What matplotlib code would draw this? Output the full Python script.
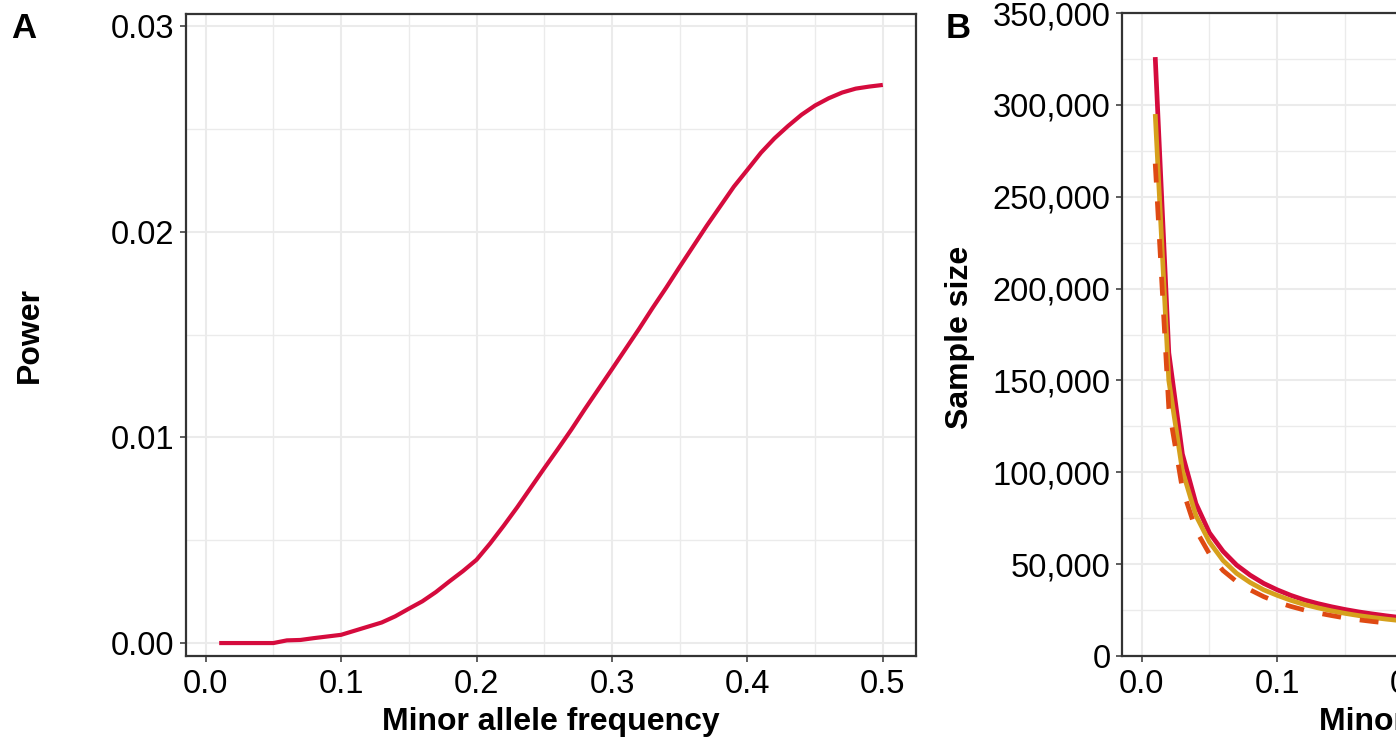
import numpy as np
import matplotlib
matplotlib.use("Agg")
import matplotlib.pyplot as plt
from matplotlib.ticker import MultipleLocator, FuncFormatter

plt.rcParams['font.family'] = ['Liberation Sans', 'DejaVu Sans']

# ---- Panel A data ----
maf_a = np.round(np.arange(1, 51) / 100, 2)
power = [0.0, 0.0, 0.0, 0.0, 0.0, 0.00013, 0.00015, 0.00024, 0.00032, 0.00040,
         0.00060, 0.00080, 0.00100, 0.00130, 0.00167, 0.00203, 0.00248, 0.00300, 0.00350, 0.00405,
         0.00484, 0.00570, 0.00660, 0.00755, 0.00850, 0.00943, 0.01038, 0.01138, 0.01235, 0.01332,
         0.01430, 0.01528, 0.01630, 0.01728, 0.01830, 0.01930, 0.02030, 0.02125, 0.02220, 0.02302,
         0.02385, 0.02455, 0.02515, 0.02570, 0.02615, 0.02650, 0.02678, 0.02697, 0.02707, 0.02715]

# ---- Panel B data ----
maf_b = np.round(np.arange(1, 22) / 100, 2)
n_crimson = [326000, 165000, 110000, 83000, 67000, 57000, 49500, 44000, 39500, 36000,
             33000, 30500, 28500, 26800, 25300, 24000, 22900, 21900, 21000, 20200, 19500]
n_gold = [295000, 150000, 101000, 76500, 62000, 52000, 45000, 40000, 36000, 33000,
          30300, 28000, 26200, 24600, 23200, 22000, 21000, 20100, 19300, 18600, 18000]
n_dashed = [268000, 135000, 91000, 68500, 55500, 46500, 40500, 36000, 32300, 29300,
            27000, 25000, 23400, 22000, 20700, 19700, 18800, 18000, 17300, 16700, 16200]

x_ticks = [0.0, 0.1, 0.2, 0.3, 0.4, 0.5]
x_tick_labels = ["0.0", "0.1", "0.2", "0.3", "0.4", "0.5"]
a_y_ticks = [0.00, 0.01, 0.02, 0.03]
a_y_tick_labels = ["0.00", "0.01", "0.02", "0.03"]
b_y_ticks = [0, 50000, 100000, 150000, 200000, 250000, 300000, 350000]

C_CRIMSON = '#D50B3D'
C_GOLD = '#D6A01C'
C_DASH = '#DF4A13'
GRID = '#EBEBEB'
SPINE = '#333333'

TICK_FS = 23.5
TITLE_FS = 23

W, H = 1396, 740
fig = plt.figure(figsize=(W / 100, H / 100), dpi=100)
fig.patch.set_facecolor('white')


def rect(l, r, t, b):
    return [l / W, (H - b) / H, (r - l) / W, (b - t) / H]


def style(ax):
    ax.set_facecolor('white')
    ax.xaxis.set_minor_locator(MultipleLocator(0.05))
    ax.grid(which='major', color=GRID, lw=1.5, zorder=0)
    ax.grid(which='minor', color=GRID, lw=1.0, zorder=0)
    ax.set_axisbelow(True)
    for s in ax.spines.values():
        s.set_color(SPINE)
        s.set_linewidth(1.6)
    ax.tick_params(which='major', direction='out', length=4.3, width=1.1, color=SPINE,
                   labelsize=TICK_FS, labelcolor='black')
    ax.tick_params(axis='x', which='major', pad=5)
    ax.tick_params(axis='y', which='major', pad=4)
    ax.tick_params(which='minor', length=0)


# ---- Panel A ----
axA = fig.add_axes(rect(186, 916, 14, 656))
style(axA)
axA.plot(maf_a, power, color=C_CRIMSON, lw=3.0, solid_capstyle='butt', zorder=3)
axA.set_xlim(-0.0145, 0.5245)
axA.set_ylim(-0.00063, 0.0306)
axA.set_xticks(x_ticks)
axA.set_xticklabels(x_tick_labels)
axA.set_yticks(a_y_ticks)
axA.set_yticklabels(a_y_tick_labels)
axA.yaxis.set_minor_locator(MultipleLocator(0.005))
axA.set_xlabel("Minor allele frequency", fontsize=TITLE_FS, fontweight='bold')
axA.set_ylabel("Power", fontsize=TITLE_FS, fontweight='bold')
axA.xaxis.set_label_coords(0.5, (656 - 722) / 642)
axA.xaxis.label.set_va('center')
axA.yaxis.set_label_coords((30 - 186) / 730, (656 - 335) / 642)
axA.yaxis.label.set_va('center')

# ---- Panel B ----
axB = fig.add_axes(rect(1122, 1853, 13, 656))
style(axB)
axB.plot(maf_b, n_crimson, color=C_CRIMSON, lw=3.4, solid_capstyle='butt', zorder=3)
axB.plot(maf_b, n_gold, color=C_GOLD, lw=3.4, solid_capstyle='butt', zorder=4)
axB.plot(maf_b, n_dashed, color=C_DASH, lw=3.4, linestyle=(0, (4, 4)), dash_capstyle='butt', zorder=5)
axB.set_xlim(-0.0145, 0.5245)
axB.set_ylim(0, 350000)
axB.set_xticks(x_ticks)
axB.set_xticklabels(x_tick_labels)
axB.set_yticks(b_y_ticks)
axB.yaxis.set_major_formatter(FuncFormatter(lambda v, p: f"{int(v):,}"))
axB.yaxis.set_minor_locator(MultipleLocator(25000))
axB.set_xlabel("Minor allele frequency", fontsize=TITLE_FS, fontweight='bold')
axB.set_ylabel("Sample size", fontsize=TITLE_FS, fontweight='bold')
axB.xaxis.set_label_coords(0.5, (656 - 722) / 643)
axB.xaxis.label.set_va('center')
axB.yaxis.set_label_coords((960 - 1122) / 731, (656 - 337) / 643)
axB.yaxis.label.set_va('center')

# panel tags
fig.text(24 / W, 1 - 28 / H, "A", fontsize=25, fontweight='bold', ha='center', va='center')
fig.text(958 / W, 1 - 28 / H, "B", fontsize=25, fontweight='bold', ha='center', va='center')

fig.savefig("out.png", dpi=100)
